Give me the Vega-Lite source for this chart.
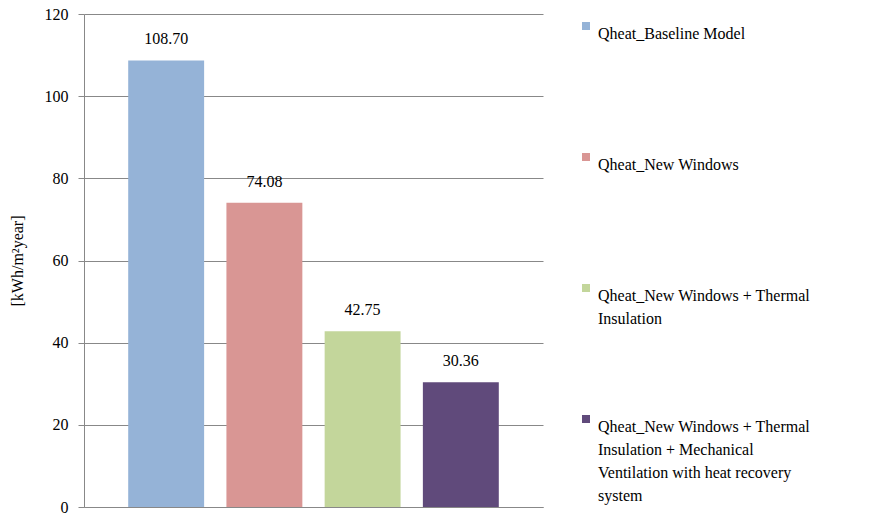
{
  "$schema": "https://vega.github.io/schema/vega-lite/v6.json",
  "width": 459,
  "height": 493,
  "autosize": "none",
  "padding": {"left": 84, "top": 14, "right": 327, "bottom": 9},
  "background": "white",
  "config": {
    "view": {"stroke": null},
    "font": "Liberation Serif",
    "text": {"font": "Liberation Serif"},
    "axis": {"labelFont": "Liberation Serif", "titleFont": "Liberation Serif"},
    "legend": {"labelFont": "Liberation Serif"}
  },
  "data": {
    "values": [
      {"series": "Qheat_Baseline Model", "value": 108.70},
      {"series": "Qheat_New Windows", "value": 74.08},
      {"series": "Qheat_New Windows + Thermal Insulation", "value": 42.75},
      {"series": "Qheat_New Windows + Thermal Insulation + Mechanical Ventilation with heat recovery system", "value": 30.36}
    ]
  },
  "encoding": {
    "x": {
      "field": "series", "type": "nominal", "sort": null,
      "scale": {"paddingInner": 0.227, "paddingOuter": 0.45},
      "axis": {"labels": false, "ticks": false, "title": null, "domainColor": "#888888", "grid": false}
    },
    "y": {
      "field": "value", "type": "quantitative",
      "scale": {"domain": [0, 120], "nice": false},
      "axis": {
        "values": [0, 20, 40, 60, 80, 100, 120],
        "title": "[kWh/m²year]",
        "titleFontSize": 16, "titleFontWeight": "normal", "titleColor": "#000000", "titlePadding": 19,
        "labelFontSize": 16, "labelColor": "#000000", "labelPadding": 10,
        "tickSize": 6, "tickColor": "#888888", "domainColor": "#888888",
        "gridColor": "#888888", "gridWidth": 1
      }
    }
  },
  "layer": [
    {
      "mark": {"type": "bar"},
      "encoding": {
        "color": {
          "field": "series", "type": "nominal", "sort": null,
          "scale": {"range": ["#95B3D7", "#D99694", "#C3D69B", "#604A7B"]},
          "legend": {
            "title": null,
            "orient": "none",
            "legendX": 494,
            "legendY": 4,
            "padding": 0,
            "symbolType": "square",
            "symbolSize": 64,
            "symbolStrokeWidth": 0,
            "labelFontSize": 16,
            "labelColor": "#000000",
            "labelLimit": 400,
            "labelOffset": 4,
            "labelBaseline": "top",
            "gridAlign": "all",
            "rowPadding": 38,
            "labelExpr": "datum.label == 'Qheat_New Windows + Thermal Insulation' ? ['Qheat_New Windows + Thermal', 'Insulation'] : datum.label == 'Qheat_New Windows + Thermal Insulation + Mechanical Ventilation with heat recovery system' ? ['Qheat_New Windows + Thermal', 'Insulation + Mechanical', 'Ventilation with heat recovery', 'system'] : datum.label",
            "encode": {"labels": {"update": {"lineHeight": {"value": 23}}}}
          }
        }
      }
    },
    {
      "mark": {"type": "text", "baseline": "bottom", "dy": -13, "fontSize": 16, "color": "#000000"},
      "encoding": {
        "text": {"field": "value", "type": "quantitative", "format": ".2f"}
      }
    }
  ]
}
